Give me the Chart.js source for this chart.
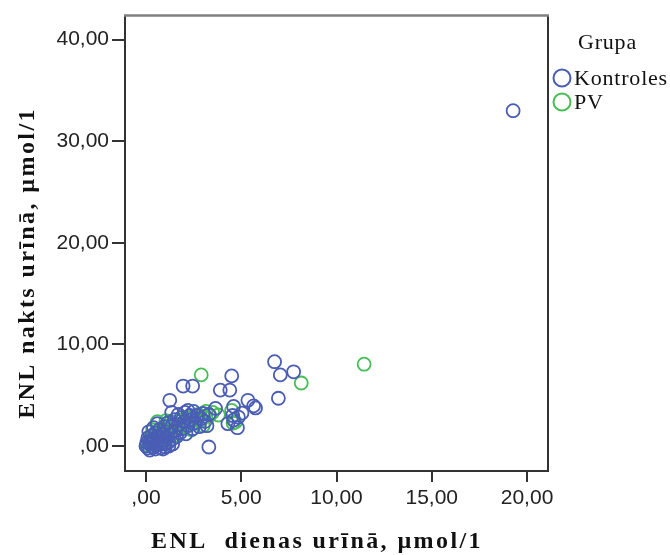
<!DOCTYPE html>
<html>
<head>
<meta charset="utf-8">
<script src="https://cdn.jsdelivr.net/npm/chart.js"></script>
<style>
  body { margin: 0; background: #fff; }
  canvas { display: block; }
</style>
</head>
<body>
<canvas id="myChart" width="670" height="555"></canvas>
<script>
const ctx = document.getElementById("myChart")

// ENL dienas urīnā (x) / ENL nakts urīnā (y), µmol/l
const kontroles = [
  [19.27, 33.0], [6.75, 8.3], [7.05, 7.0], [7.75, 7.3], [6.95, 4.7], [4.5, 6.9],
  [3.9, 5.5], [4.4, 5.5], [5.35, 4.5], [5.75, 3.75], [5.65, 3.95], [3.65, 3.7],
  [4.6, 2.55], [4.8, 1.8], [4.85, 2.85], [3.3, -0.1], [1.95, 5.9], [2.45, 5.9],
  [1.25, 4.5], [1.35, 3.3], [4.55, 3.0], [4.3, 2.2], [5.04, 3.24], [4.6, 3.9],
  [0.0, 0.0], [0.05, 0.35], [0.1, 0.8], [0.1, -0.2], [0.2, 0.2], [0.25, 0.55],
  [0.3, 1.0], [0.35, -0.1], [0.4, 0.3], [0.45, 0.7], [0.5, 1.3], [0.55, 0.1],
  [0.6, 0.5], [0.65, 0.9], [0.7, 1.6], [0.75, -0.2], [0.8, 0.3], [0.85, 1.1],
  [0.9, 0.6], [0.95, 1.9], [1.0, 0.2], [1.05, 0.9], [1.1, 1.4], [1.15, 2.3],
  [1.2, 0.4], [1.3, 1.2], [1.35, 1.9], [1.4, 0.7], [1.5, 2.6], [1.55, 1.5],
  [1.6, 0.9], [1.7, 2.1], [1.8, 1.3], [1.85, 2.8], [1.9, 1.7], [2.0, 2.4],
  [2.05, 3.3], [2.1, 1.2], [2.2, 2.0], [2.3, 3.0], [2.35, 2.6], [2.45, 1.7],
  [2.5, 3.4], [2.6, 2.3], [2.7, 3.0], [2.8, 1.9], [2.9, 2.7], [3.0, 3.2],
  [3.1, 2.4], [3.2, 2.0], [3.3, 3.1], [0.15, 1.4], [0.4, 1.8], [0.6, 2.2],
  [0.2, -0.4], [0.5, -0.3], [0.3, 0.4], [1.0, -0.1], [1.2, 0.0], [1.4, 0.2],
  [0.9, -0.3], [2.2, 3.5], [1.7, 3.1]
]

const pv = [
  [11.45, 8.05], [8.15, 6.2], [2.9, 7.0], [4.5, 3.5], [3.8, 3.05], [4.7, 2.35],
  [4.57, 2.26], [0.6, 2.4], [1.3, 2.4],
  [0.05, 0.1], [0.15, 0.5], [0.25, 0.2], [0.3, 0.9], [0.4, 0.4], [0.45, 1.2],
  [0.55, 0.7], [0.6, 0.1], [0.7, 1.0], [0.75, 0.5], [0.8, 1.4], [0.9, 0.9],
  [0.95, 1.7], [1.0, 1.2], [1.1, 0.7], [1.15, 1.6], [1.2, 2.0], [1.3, 1.3],
  [1.4, 1.8], [1.45, 2.2], [1.55, 1.6], [1.6, 2.0], [1.7, 2.4], [1.75, 1.7],
  [1.85, 2.1], [1.9, 2.6], [2.0, 1.9], [2.1, 2.3], [2.15, 2.8], [2.25, 2.1],
  [2.35, 2.5], [2.45, 2.9], [2.55, 2.2], [2.65, 2.6], [2.75, 3.1], [2.9, 2.5],
  [3.0, 2.9], [3.15, 3.4], [3.35, 3.0], [0.2, 0.8], [0.5, 0.0], [0.85, 0.3],
  [1.05, 2.5], [1.6, 1.1], [2.4, 1.6], [3.0, 2.0], [0.35, 1.6], [3.5, 3.3]
]

const xTicks = [0, 5, 10, 15, 20]
const yTicks = [0, 10, 20, 30, 40]
const grupas = ["Kontroles", "PV"]
const krasas = ["#4a5db5", "#45bf55"]

const fmt = v => {
  const s = v.toFixed(2).replace(".", ",")
  return s.startsWith("0") ? s.slice(1) : s
}

// box round the plot + legend on the right, SPSS style
const frame = {
  id: "frame",
  afterDraw(chart) {
    const c = chart.ctx
    const a = chart.chartArea
    c.save()
    c.lineWidth = 2
    c.strokeStyle = "#333"
    c.beginPath()
    c.moveTo(a.left, a.top)
    c.lineTo(a.left, a.bottom)
    c.lineTo(a.right, a.bottom)
    c.lineTo(a.right, a.top)
    c.stroke()
    c.strokeStyle = "#808080"
    c.lineWidth = 2.5
    c.beginPath()
    c.moveTo(a.left - 1, a.top)
    c.lineTo(a.right + 1, a.top)
    c.stroke()

    // axis titles
    c.fillStyle = "#111"
    c.font = "bold 24px 'Liberation Serif'"
    c.letterSpacing = "2.4px"
    c.textAlign = "center"
    c.textBaseline = "middle"
    c.fillText("ENL  dienas urīnā, µmol/1", 317, 542)
    c.translate(28, 263)
    c.rotate(-Math.PI / 2)
    c.fillText("ENL nakts urīnā, µmol/1", 0, 0)
    c.setTransform(1, 0, 0, 1, 0, 0)

    // legend
    c.font = "22px 'Liberation Serif'"
    c.letterSpacing = "0.8px"
    c.textAlign = "left"
    c.fillText("Grupa", 578, 43)
    chart.data.datasets.forEach((ds, i) => {
      const y = 78 + i * 24
      c.beginPath()
      c.arc(562, y, 8.5, 0, Math.PI * 2)
      c.strokeStyle = ds.borderColor
      c.lineWidth = 2
      c.stroke()
      c.fillStyle = "#111"
      c.fillText(ds.label, 574, y + 1)
    })
    c.restore()
  }
}

const toPts = arr => arr.map(p => ({ x: p[0], y: p[1] }))

const myChart = new Chart(ctx, {
  type: "scatter",
  data: {
    datasets: [kontroles, pv].map((arr, i) => ({
      label: grupas[i],
      data: toPts(arr),
      borderColor: krasas[i],
      backgroundColor: "rgba(0,0,0,0)",
      pointRadius: 6.5,
      pointHoverRadius: 6.5,
      borderWidth: 1.8
    }))
  },
  options: {
    responsive: false,
    animation: false,
    layout: { padding: { top: 15, right: 122, left: 0, bottom: 0 } },
    plugins: {
      legend: { display: false },
      tooltip: { enabled: false }
    },
    scales: {
      x: {
        type: "linear",
        min: -1.1,
        max: 21.1,
        afterBuildTicks: s => { s.ticks = xTicks.map(v => ({ value: v })) },
        afterFit: s => { s.height = 84 },
        border: { display: false },
        grid: { drawOnChartArea: false, drawTicks: true, tickLength: 11, color: "#333", lineWidth: 2 },
        ticks: {
          padding: 4,
          color: "#222",
          font: { family: "'Liberation Sans'", size: 21 },
          callback: v => fmt(v)
        }
      },
      y: {
        type: "linear",
        min: -2.46,
        max: 42.36,
        afterBuildTicks: s => { s.ticks = yTicks.map(v => ({ value: v })) },
        afterFit: s => { s.width = 125 },
        border: { display: false },
        grid: { drawOnChartArea: false, drawTicks: true, tickLength: 13, color: "#333", lineWidth: 2 },
        ticks: {
          padding: 3,
          color: "#222",
          font: { family: "'Liberation Sans'", size: 21 },
          callback: v => fmt(v)
        }
      }
    }
  },
  plugins: [frame]
})
</script>
</body>
</html>
